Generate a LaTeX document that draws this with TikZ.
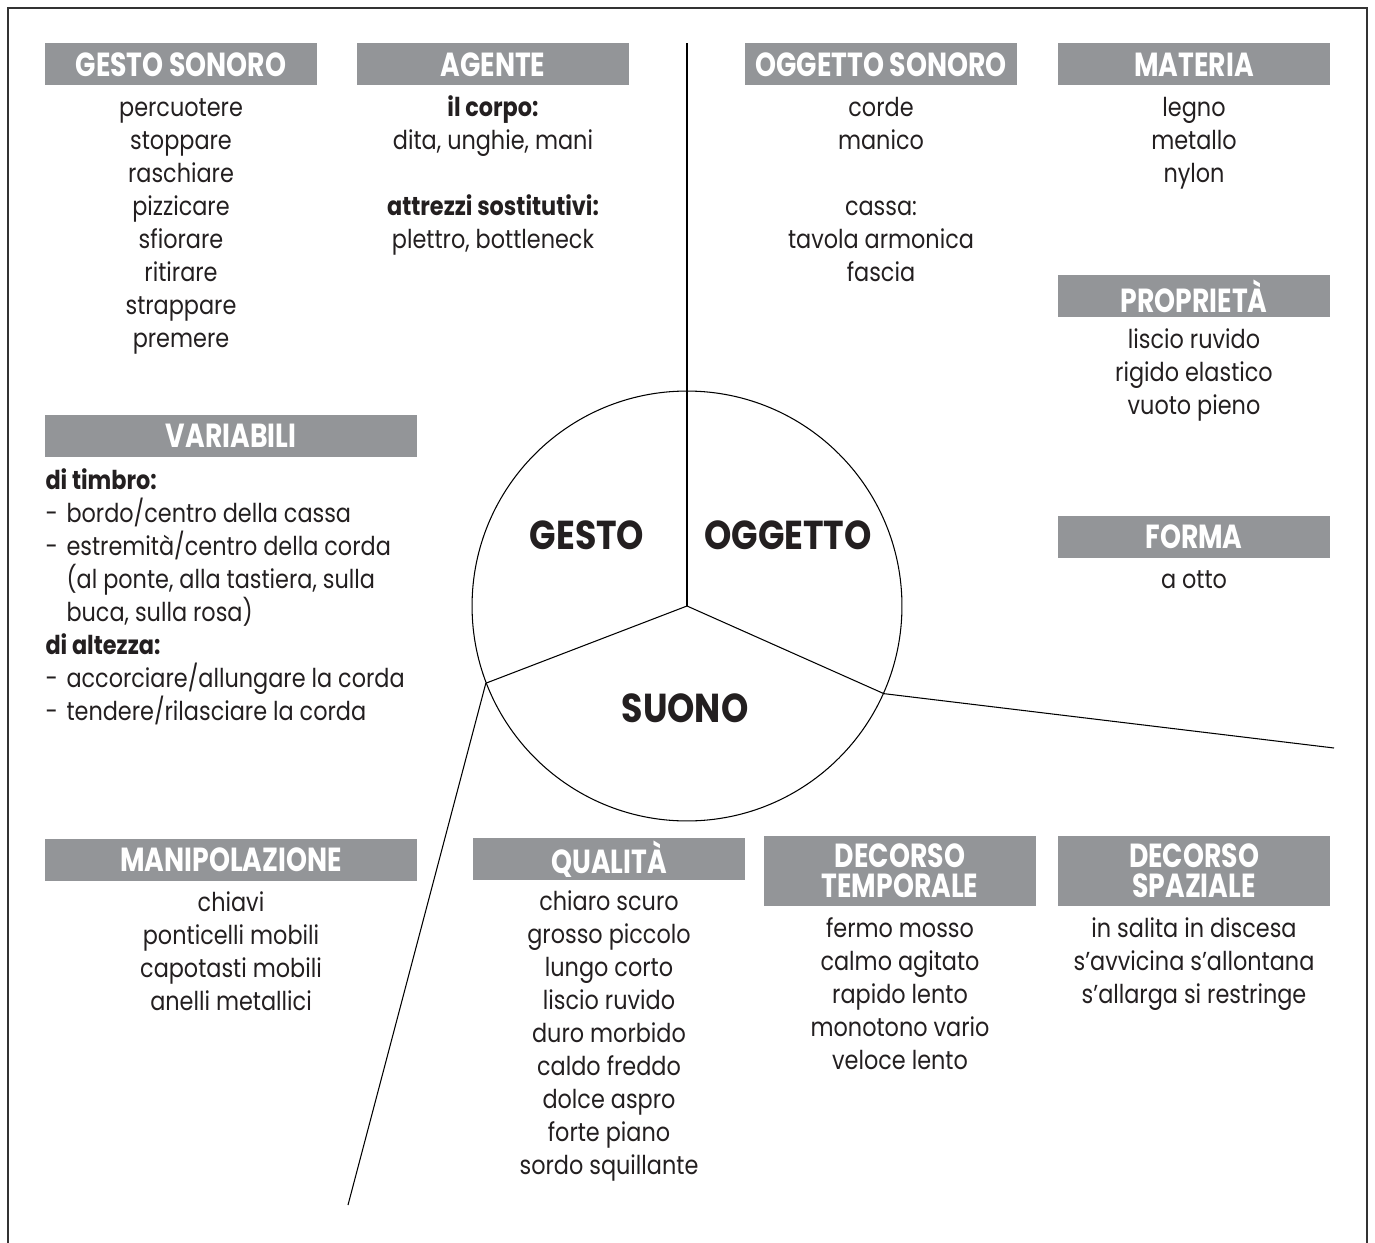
\documentclass[tikz,border=0pt]{standalone}
\usepackage{fontspec}
\setmainfont{Poppins}[FakeStretch=0.86]
\newfontfamily\hdrfont{Poppins}[FakeStretch=0.8]
\usetikzlibrary{positioning}
\definecolor{hdrgray}{HTML}{939598}
\definecolor{ink}{HTML}{231F20}
\definecolor{framegray}{HTML}{333333}

\begin{document}
\begin{tikzpicture}[x=0.02cm,y=-0.02cm,line width=0.6pt,
    hdr/.style={fill=hdrgray,text=white,inner sep=0pt,minimum width=5.46cm,minimum height=0.84cm,
        font=\hdrfont\bfseries\fontsize{19}{17}\selectfont,align=center},
    widehdr/.style={hdr,minimum width=7.46cm},
    tallhdr/.style={hdr,minimum height=1.4cm},
    item/.style={text=ink,inner sep=0pt,text height=10pt,text depth=3pt,font=\fontsize{14.8}{14}\selectfont},
    bolditem/.style={item,font=\bfseries\fontsize{14.8}{14}\selectfont},
    big/.style={text=ink,inner sep=0pt,font=\bfseries\fontsize{23}{23}\selectfont}]
\useasboundingbox (0,0) rectangle (1375,1243);
\draw[framegray,line width=1.3pt] (8,1243) -- (8,8) -- (1367,8) -- (1367,1243);

% centre
\node[circle,draw,minimum size=8.6cm,inner sep=0pt] (core) at (687,606) {};
\coordinate (topend) at (687,43);
\coordinate (leftend) at (348,1205);
\coordinate (rightend) at (1334,748);
\draw (core.center) -- (topend);
\draw (core.center) -- (core.201.4) -- (leftend);
\draw (core.center) -- (core.-24.3) -- (rightend);
\node[big] (gesto) at (587,535) {GESTO};
\node[big] (oggetto) at (788,535) {OGGETTO};
\node[big] (suono) at (685,708) {SUONO};

% headers
\node[hdr] (gs-h) at (181,64.5) {GESTO SONORO};
\node[hdr] (ag-h) at (493,64.5) {AGENTE};
\node[hdr] (os-h) at (881,64.5) {OGGETTO SONORO};
\node[hdr] (ma-h) at (1194,64.5) {MATERIA};
\node[hdr] (pr-h) at (1194,296) {PROPRIETÀ};
\node[widehdr] (va-h) at (231,436) {VARIABILI};
\node[hdr] (fo-h) at (1194,537) {FORMA};
\node[widehdr] (mp-h) at (231,860) {MANIPOLAZIONE};
\node[hdr] (qu-h) at (609,859) {QUALITÀ};
\node[tallhdr] (dt-h) at (900,871) {DECORSO\\TEMPORALE};
\node[tallhdr] (ds-h) at (1194,871) {DECORSO\\SPAZIALE};

% lists
\foreach \w [count=\i] in {percuotere,stoppare,raschiare,pizzicare,sfiorare,ritirare,strappare,premere}
    \node[item] (gs-\i) at (181,77+33*\i) {\w};

\node[bolditem] (ag-1) at (493,110) {il corpo:};
\node[item] (ag-2) at (493,143) {dita, unghie, mani};
\node[bolditem] (ag-3) at (493,209) {attrezzi sostitutivi:};
\node[item] (ag-4) at (493,242) {plettro, bottleneck};

\node[item] (os-1) at (881,110) {corde};
\node[item] (os-2) at (881,143) {manico};
\foreach \w [count=\i from 3] in {cassa:,tavola armonica,fascia}
    \node[item] (os-\i) at (881,110+33*\i) {\w};

\foreach \w [count=\i] in {legno,metallo,nylon}
    \node[item] (ma-\i) at (1194,77+33*\i) {\w};

\foreach \w [count=\i] in {liscio ruvido,rigido elastico,vuoto pieno}
    \node[item] (pr-\i) at (1194,309+33*\i) {\w};

\node[item] (fo-1) at (1194,582) {a otto};

\node[bolditem,anchor=west] (va-1) at (45,483) {di timbro:};
\node[item,anchor=west] (va-2) at (45,516) {\makebox[0.42cm][l]{-}bordo/centro della cassa};
\node[item,anchor=west] (va-3) at (45,549) {\makebox[0.42cm][l]{-}estremità/centro della corda};
\node[item,anchor=west] (va-4) at (66,582) {(al ponte, alla tastiera, sulla};
\node[item,anchor=west] (va-5) at (66,615) {buca, sulla rosa)};
\node[bolditem,anchor=west] (va-6) at (45,648) {di altezza:};
\node[item,anchor=west] (va-7) at (45,681) {\makebox[0.42cm][l]{-}accorciare/allungare la corda};
\node[item,anchor=west] (va-8) at (45,714) {\makebox[0.42cm][l]{-}tendere/rilasciare la corda};

\foreach \w [count=\i] in {chiavi,ponticelli mobili,capotasti mobili,anelli metallici}
    \node[item] (mp-\i) at (231,872+33*\i) {\w};

\foreach \w [count=\i] in {chiaro scuro,grosso piccolo,lungo corto,liscio ruvido,duro morbido,caldo freddo,dolce aspro,forte piano,sordo squillante}
    \node[item] (qu-\i) at (609,871+33*\i) {\w};

\foreach \w [count=\i] in {fermo mosso,calmo agitato,rapido lento,monotono vario,veloce lento}
    \node[item] (dt-\i) at (900,898+33*\i) {\w};

\foreach \w [count=\i] in {in salita in discesa,s’avvicina s’allontana,s’allarga si restringe}
    \node[item] (ds-\i) at (1194,898+33*\i) {\w};

\end{tikzpicture}
\end{document}
